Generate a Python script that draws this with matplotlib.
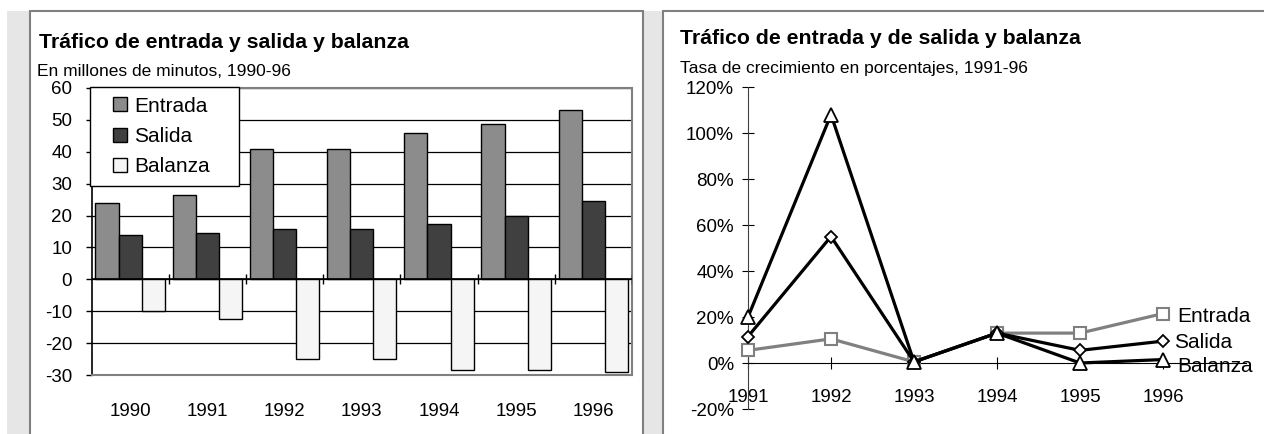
import matplotlib.pyplot as plt
import numpy as np
from matplotlib.patches import Rectangle
from matplotlib.legend_handler import HandlerPatch

plt.rcParams['font.family'] = ['Liberation Sans', 'DejaVu Sans']
plt.rcParams['axes.unicode_minus'] = False

# ---- data
years_bar = ["1990", "1991", "1992", "1993", "1994", "1995", "1996"]
entrada = [24, 26.5, 41, 41, 46, 48.7, 53]
salida = [13.8, 14.5, 15.7, 15.7, 17.5, 20, 24.5]
balanza = [-10, -12.5, -25, -25, -28.3, -28.3, -29]

years_line = ["1991", "1992", "1993", "1994", "1995", "1996"]
g_entrada = [5.5, 10.5, 0.5, 13, 13, 21.5]
g_salida = [11.5, 55, 0.5, 13, 5.5, 9.5]
g_balanza = [20, 108, 0.5, 13, 0, 1.5]

W, H = 1264, 434
fig = plt.figure(figsize=(W / 100, H / 100), dpi=100)
fig.patch.set_facecolor("white")


def px(x0, y0, x1, y1):
    # pixel box (top-left origin) -> figure fraction [l, b, w, h]
    return [x0 / W, 1 - y1 / H, (x1 - x0) / W, (y1 - y0) / H]


# panel backgrounds
for x0, x1 in [(7, 30), (643, 663)]:
    fig.patches.append(Rectangle((x0 / W, 0), (x1 - x0) / W, 1 - 11 / H,
                                 transform=fig.transFigure, facecolor="#e6e6e6",
                                 edgecolor="none", zorder=0))
for x0, x1 in [(30, 643), (663, 1270)]:
    fig.patches.append(Rectangle((x0 / W, -0.05), (x1 - x0) / W, 1.05 - 11 / H,
                                 transform=fig.transFigure, facecolor="white",
                                 edgecolor="#808080", lw=1.5, zorder=1))

TFS = 15.3   # titles
SFS = 12.5   # subtitles
KFS = 13.5   # tick labels
LFS = 15     # legend / line labels


class SquareHandler(HandlerPatch):
    # square swatch pushed to the right end of the handle box
    def create_artists(self, legend, orig_handle, xdescent, ydescent,
                       width, height, fontsize, trans):
        s = 14 * 72 / 100
        r = Rectangle((width - xdescent - s, -ydescent + (height - s) / 2), s, s,
                      facecolor=orig_handle.get_facecolor(),
                      edgecolor="black", lw=1, transform=trans)
        return [r]


# ---- left chart: bars
fig.text(39 / W, 1 - 42 / H, "Tráfico de entrada y salida y balanza",
         fontsize=TFS, fontweight="bold", va="center", ha="left", zorder=3)
fig.text(37 / W, 1 - 72 / H, "En millones de minutos, 1990-96",
         fontsize=SFS, va="center", ha="left", zorder=3)

ax = fig.add_axes(px(91.5, 88, 632, 375))
ax.set_zorder(2)
x = np.arange(len(years_bar))
w = 0.3
b1 = ax.bar(x - w, entrada, w, color="#8c8c8c", edgecolor="black", lw=1, zorder=3)
b2 = ax.bar(x, salida, w, color="#404040", edgecolor="black", lw=1, zorder=3)
b3 = ax.bar(x + w, balanza, w, color="#f5f5f5", edgecolor="black", lw=1, zorder=3)
ax.set_xlim(-0.5, len(years_bar) - 0.5)
ax.set_ylim(-30, 60)
ax.set_yticks(range(-30, 61, 10))
ax.yaxis.grid(True, color="black", lw=0.9)
ax.set_axisbelow(True)
ax.axhline(0, color="black", lw=1.2, zorder=4)
ax.vlines(x[1:] - 0.5, -1.6, 1.6, color="black", lw=1, zorder=4)
ax.vlines([len(years_bar) - 0.5], -1.6, 1.6, color="black", lw=1, zorder=4)
ax.set_xticks(x)
ax.set_xticklabels(years_bar)
ax.tick_params(axis="x", length=0, pad=20, labelsize=KFS)
ax.tick_params(axis="y", length=4, width=1, pad=10, labelsize=KFS)
for s in ["top", "right", "bottom"]:
    ax.spines[s].set_color("#808080")
    ax.spines[s].set_linewidth(1.5)
ax.spines["left"].set_color("black")
ax.spines["left"].set_linewidth(1.2)
leg_w = (239 - 90) / (632 - 91.5)
leg = ax.legend([b1[0], b2[0], b3[0]], ["Entrada", "Salida", "Balanza"],
                loc="upper left",
                bbox_to_anchor=(-0.003, 0.003, leg_w, 1.0), mode="expand",
                frameon=True, fancybox=False, edgecolor="black", framealpha=1,
                fontsize=LFS, handlelength=1.33, handleheight=0.7,
                handletextpad=0.33, labelspacing=0.55, borderpad=0.45,
                borderaxespad=0, handler_map={Rectangle: SquareHandler()})
leg.get_frame().set_linewidth(1)
leg.set_zorder(6)

# ---- right chart: growth lines
fig.text(680 / W, 1 - 38 / H, "Tráfico de entrada y de salida y balanza",
         fontsize=TFS, fontweight="bold", va="center", ha="left", zorder=3)
fig.text(680 / W, 1 - 68 / H, "Tasa de crecimiento en porcentajes, 1991-96",
         fontsize=SFS, va="center", ha="left", zorder=3)

ax2 = fig.add_axes(px(748, 87, 748 + 6 * 83, 409))
ax2.set_zorder(2)
ax2.patch.set_alpha(0)
xl = np.arange(len(years_line))
ax2.plot(xl, g_entrada, color="#808080", lw=2.3, marker="s", ms=9,
         mfc="white", mec="#808080", mew=1.5, zorder=3, clip_on=False)
ax2.plot(xl, g_salida, color="black", lw=2.3, marker="D", ms=6.5,
         mfc="white", mec="black", mew=1.3, zorder=4, clip_on=False)
ax2.plot(xl, g_balanza, color="black", lw=2.3, marker="^", ms=10.5,
         mfc="white", mec="black", mew=1.3, zorder=5, clip_on=False)
ax2.set_xlim(0, 6)
ax2.set_ylim(-20, 120)
ax2.set_yticks(range(-20, 121, 20))
ax2.set_yticklabels([f"{v}%" for v in range(-20, 121, 20)])
ax2.set_xticks(xl)
ax2.set_xticklabels(years_line)
ax2.spines["bottom"].set_position(("data", 0))
ax2.spines["bottom"].set_color("black")
ax2.spines["left"].set_color("#404040")
ax2.spines["top"].set_visible(False)
ax2.spines["right"].set_visible(False)
ax2.tick_params(axis="x", direction="inout", length=8, pad=15, labelsize=KFS)
ax2.tick_params(axis="y", direction="inout", length=8, pad=6, labelsize=KFS)

ax2.annotate("Entrada", (xl[-1], g_entrada[-1]), xytext=(10, -2),
             textcoords="offset points", va="center", ha="left", fontsize=LFS)
ax2.annotate("Salida", (xl[-1], g_salida[-1]), xytext=(8, -1),
             textcoords="offset points", va="center", ha="left", fontsize=LFS)
ax2.annotate("Balanza", (xl[-1], g_balanza[-1]), xytext=(10, -5),
             textcoords="offset points", va="center", ha="left", fontsize=LFS)

fig.savefig("out.png", dpi=100)
